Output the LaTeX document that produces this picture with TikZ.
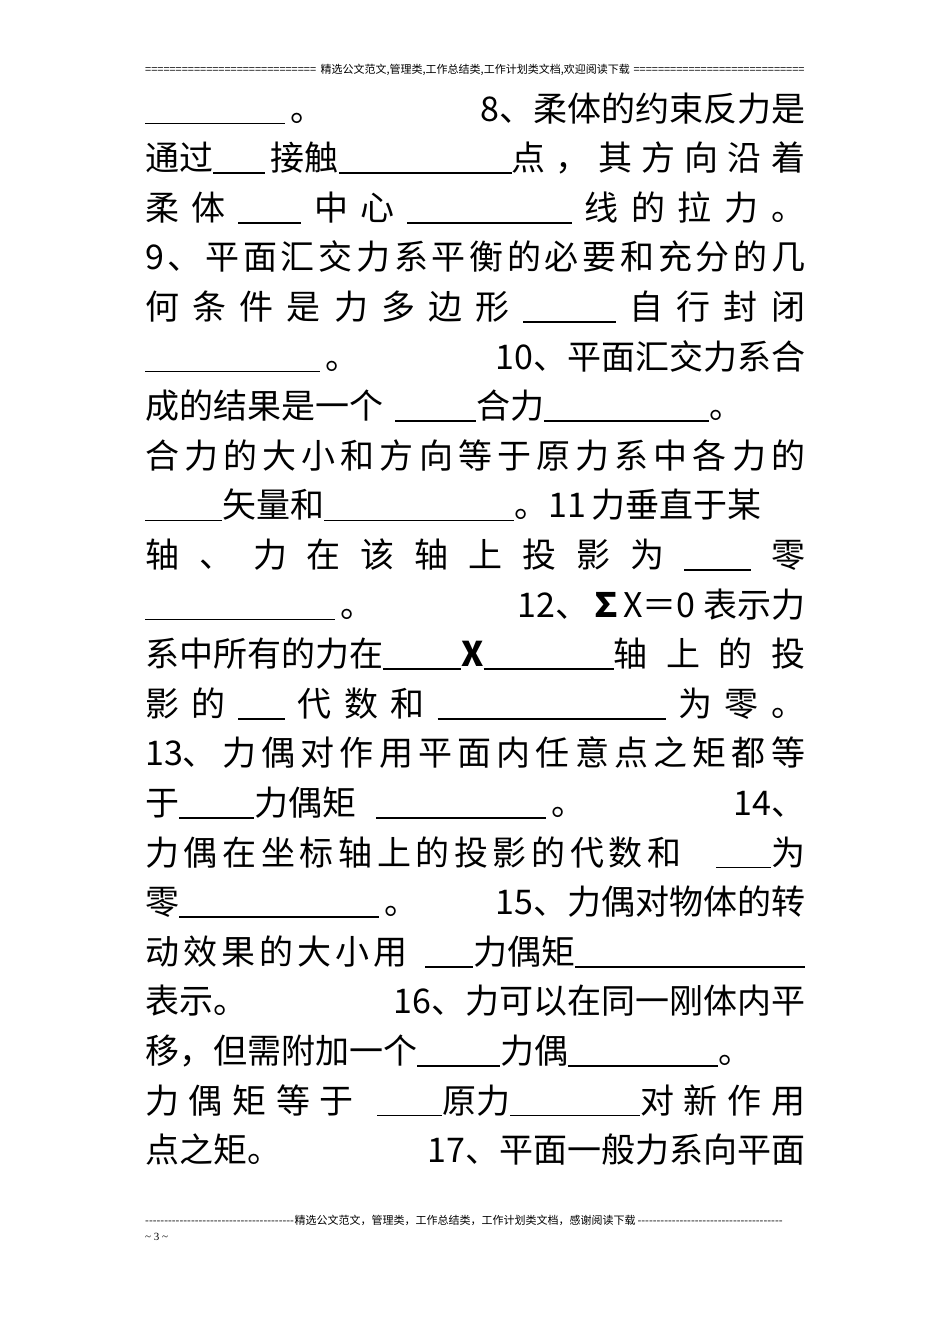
\documentclass[tikz,border=0pt]{standalone}
\usepackage{fontspec}
\setmainfont{Liberation Serif}
\newfontfamily\cjk{Noto Sans CJK SC}
\newcommand{\B}[1]{\rule[-0.1em]{#1pt}{1.6pt}}
\newcommand{\s}{\hfil}
\def\sp#1{\spA#1\relax}
\def\spA#1{\ifx#1\relax\else#1\hskip0pt plus 1fil\expandafter\spA\fi}
\begin{document}
\begin{tikzpicture}[x=1pt,y=1pt,ln/.style={anchor=base west,inner sep=0pt,font=\fontsize{34}{34}\selectfont\cjk}]
\useasboundingbox[fill=white] (0,0) rectangle (950,-1344);
\node[anchor=base west,inner sep=0pt,font=\fontsize{11}{11}\selectfont\cjk] (hd) at (145,-73) {\hbox to 660pt{\leaders\hbox{=}\hfill 精选公文范文,管理类,工作总结类,工作计划类文档,欢迎阅读下载\leaders\hbox{=}\hfill}};
\def\L#1#2{\node[ln] (l#1) at (145,{-121-49.6*(#1-1)}) {\hbox to 660pt{#2}};}
\L{1}{\B{140}\,。\hfill 8、柔体的约束反力是}
\L{2}{通过\B{52}\,接触\B{173}\sp{点，其方向沿}着}
\L{3}{柔\s 体\s\B{63}\s 中\s 心\s\B{165}\s 线\s 的\s 拉\s 力\s 。}
\L{4}{\sp{9、平面汇交力系平衡的必要和充分的}几}
\L{5}{何\s 条\s 件\s 是\s 力\s 多\s 边\s 形\s\B{93}\s 自\s 行\s 封\s 闭}
\L{6}{\B{175}\,。\hfill 10、平面汇交力系合}
\L{7}{成的结果是一个\hspace{12pt}\B{81}合力\B{165}。}
\L{8}{\sp{合力的大小和方向等于原力系中各力}的}
\L{9}{\B{77}矢量和\B{190}。11\,力垂直于某}
\L{10}{轴\s 、\s 力\s 在\s 该\s 轴\s 上\s 投\s 影\s 为\s\B{67}\s 零}
\L{11}{\B{190}\,。\hfill 12、\textbf{∑}X＝0 表示力}
\L{12}{系中所有的力在\B{78}\textbf{X}\B{130}\sp{轴上的}投}
\L{13}{影\s 的\s\B{47}\s 代\s 数\s 和\s\B{228}\s 为\s 零\s 。}
\L{14}{13\sp{、力偶对作用平面内任意点之矩都}等}
\L{15}{于\B{75}力偶矩\hspace{20pt}\B{170}\,。\hfill 14、}
\L{16}{\sp{力偶在坐标轴上的投影的代数和}\hspace{30pt}\B{55}为}
\L{17}{零\B{200}\,。\hfill 15、力偶对物体的转}
\L{18}{\sp{动效果的大小用}\hspace{14pt}\B{48}力偶矩\B{230}}
\L{19}{表示。\hfill 16、力可以在同一刚体内平}
\L{20}{移，但需附加一个\B{83}力偶\B{150}。}
\L{21}{\sp{力偶矩等于}\hspace{14pt}\B{65}原力\B{130}\sp{对新作}用}
\L{22}{点之矩。\hfill 17、平面一般力系向平面}
\node[anchor=base west,inner sep=0pt,font=\fontsize{11}{11}\selectfont\cjk] (ft) at (145,-1224) {\hbox to 640pt{\leaders\hbox{-}\hfill 精选公文范文，管理类，工作总结类，工作计划类文档，感谢阅读下载\leaders\hbox{-}\hfill}};
\node[anchor=base west,inner sep=0pt,font=\fontsize{11}{11}\selectfont] (pg) at (145,-1240) {\textasciitilde\ 3 \textasciitilde};
\end{tikzpicture}
\end{document}
